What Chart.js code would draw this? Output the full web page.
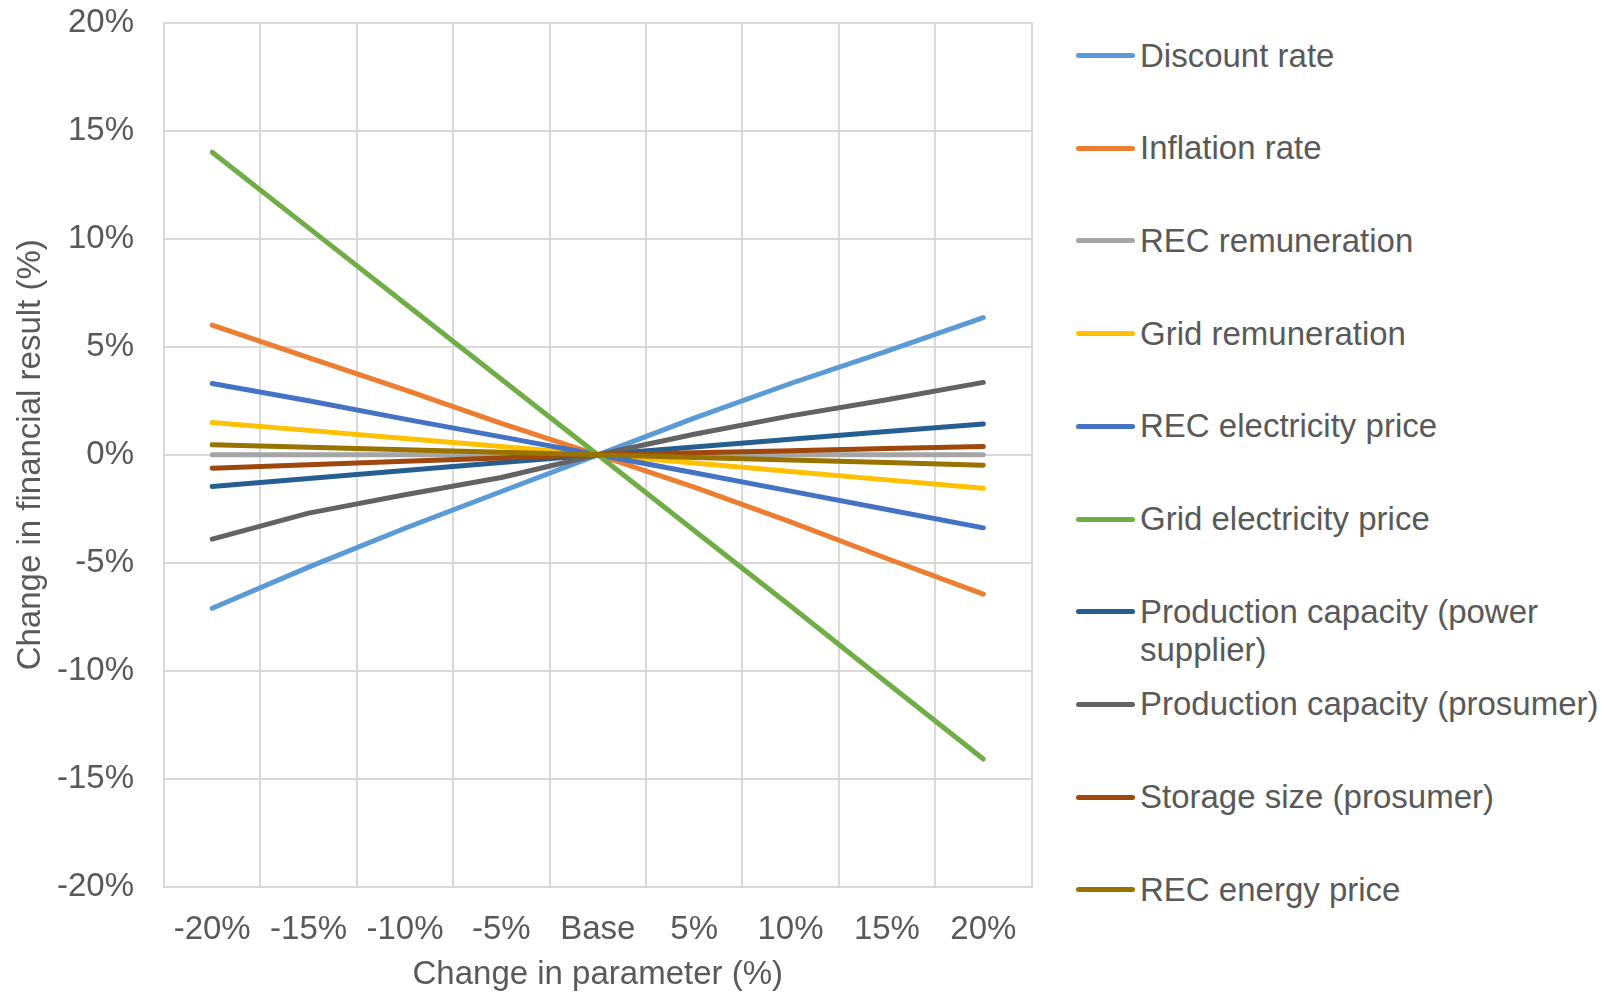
<!DOCTYPE html>
<html>
<head>
<meta charset="utf-8">
<script src="https://cdn.jsdelivr.net/npm/chart.js@4/dist/chart.umd.min.js"></script>
<style>
  body { margin: 0; background: #fff; }
  #wrap { position: relative; width: 1611px; height: 996px; font-family: "Liberation Sans", Arial, sans-serif; }
  #chart { position: absolute; left: 0; top: 0; }
  .item { position: absolute; left: 1076px; height: 38px; }
  .item .mark { position: absolute; left: 0; top: 16.5px; width: 59px; height: 5px; border-radius: 2.5px; }
  .item .txt { position: absolute; left: 64px; top: 0; width: 480px; font-size: 33px; line-height: 38px; color: #595959; }
</style>
</head>
<body>
<div id="wrap">
  <canvas id="chart" width="1040" height="996"></canvas>
  <div id="legend"></div>
</div>
<script>
const categorias = ['-20%', '-15%', '-10%', '-5%', 'Base', '5%', '10%', '15%', '20%'];

const discountRate = [-7.1, -5.2, -3.4, -1.7, 0, 1.7, 3.3, 4.8, 6.35];
const inflationRate = [6.0, 4.5, 3.0, 1.45, 0, -1.5, -3.1, -4.8, -6.45];
const recRemuneration = [0, 0, 0, 0, 0, 0, 0, 0, 0];
const gridRemuneration = [1.5, 1.13, 0.75, 0.38, 0, -0.38, -0.77, -1.16, -1.55];
const recElectricityPrice = [3.3, 2.5, 1.65, 0.83, 0, -0.83, -1.68, -2.53, -3.38];
const gridElectricityPrice = [14.0, 10.5, 7.0, 3.5, 0, -3.5, -7.0, -10.55, -14.08];
const capacitySupplier = [-1.47, -1.1, -0.73, -0.36, 0, 0.36, 0.72, 1.08, 1.43];
const capacityProsumer = [-3.9, -2.7, -1.85, -1.05, 0, 0.95, 1.8, 2.55, 3.35];
const storageSize = [-0.62, -0.46, -0.3, -0.15, 0, 0.1, 0.19, 0.29, 0.38];
const recEnergyPrice = [0.46, 0.35, 0.23, 0.12, 0, -0.12, -0.24, -0.36, -0.48];

const nombres = ['Discount rate', 'Inflation rate', 'REC remuneration', 'Grid remuneration',
  'REC electricity price', 'Grid electricity price', 'Production capacity (power supplier)',
  'Production capacity (prosumer)', 'Storage size (prosumer)', 'REC energy price'];
const series = [discountRate, inflationRate, recRemuneration, gridRemuneration, recElectricityPrice,
  gridElectricityPrice, capacitySupplier, capacityProsumer, storageSize, recEnergyPrice];
const colores = ['#5B9BD5', '#ED7D31', '#A5A5A5', '#FFC000', '#4472C4', '#70AD47',
  '#255E91', '#636363', '#9E480E', '#997300'];

const yTicks = [-20, -15, -10, -5, 0, 5, 10, 15, 20];

const gris = '#595959';
const fuente = { family: '"Liberation Sans", Arial, sans-serif', size: 33 };

const datasets = series.map((valores, i) => ({
  label: nombres[i],
  data: valores,
  borderColor: colores[i],
  backgroundColor: colores[i],
  borderWidth: 5,
  borderCapStyle: 'round',
  borderJoinStyle: 'round',
  pointRadius: 0,
  tension: 0,
  fill: false,
  order: series.length - 1 - i
}));

const chart = new Chart(document.getElementById('chart'), {
  type: 'line',
  data: { labels: categorias, datasets: datasets },
  options: {
    responsive: false,
    animation: false,
    layout: { padding: { top: 22.6, right: 8.5, left: 0, bottom: 0 } },
    plugins: { legend: { display: false }, tooltip: { enabled: false } },
    scales: {
      x: {
        offset: true,
        grid: { color: '#D9D9D9', lineWidth: 2, offset: true, drawTicks: false },
        border: { color: '#D9D9D9', width: 2 },
        ticks: { color: gris, font: fuente, padding: 23, maxRotation: 0, autoSkip: false },
        title: { display: true, text: 'Change in parameter (%)', color: gris, font: fuente, padding: { top: 0, bottom: 1 } },
        afterFit: (s) => { s.height = 109; s.paddingLeft = 0; s.paddingRight = 0; }
      },
      y: {
        min: -20, max: 20,
        afterBuildTicks: (s) => { s.ticks = yTicks.map(v => ({ value: v })); },
        grid: { color: '#D9D9D9', lineWidth: 2, drawTicks: false },
        border: { color: '#D9D9D9', width: 2 },
        ticks: { color: gris, font: fuente, padding: 30, callback: (v) => v + '%' },
        title: { display: true, text: 'Change in financial result (%)', color: gris, font: fuente, padding: { top: 11, bottom: 0 } },
        afterFit: (s) => { s.width = 164; s.paddingTop = 0; s.paddingBottom = 0; }
      }
    }
  }
});

// leyenda en html, a la derecha
const leyenda = document.getElementById('legend');
chart.data.datasets.forEach((ds, i) => {
  const centro = 55.5 + i * 92.7;
  leyenda.innerHTML += "<div class='item' style='top:" + (centro - 19) + "px'>" +
    "<div class='mark' style='background:" + ds.borderColor + "'></div>" +
    "<div class='txt'>" + ds.label + "</div>" +
    "</div>";
});
</script>
</body>
</html>
